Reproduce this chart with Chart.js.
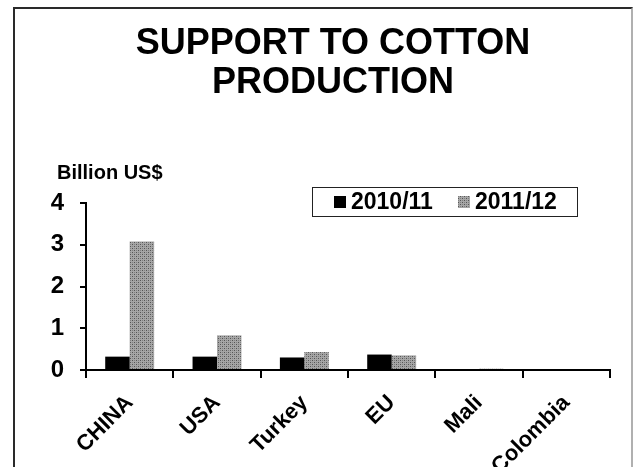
<!DOCTYPE html>
<html>
<head>
<meta charset="utf-8">
<script src="https://cdn.jsdelivr.net/npm/chart.js@4"></script>
<style>
    html, body { margin: 0; padding: 0; background: #fff; }
    #frame {
        position: absolute; left: 13px; top: 7px; width: 616px; height: 480px;
        border-left: 2px solid #2a2a2a; border-top: 2px solid #2a2a2a; border-right: 2px solid #b0b0b0;
    }
    #wrap { position: absolute; left: 0; top: 0; width: 633px; height: 467px; }
</style>
</head>
<body>
<div id="frame"></div>
<div id="wrap"><canvas id="cottonChart"></canvas></div>
<script>
const countries = ['CHINA', 'USA', 'Turkey', 'EU', 'Mali', 'Colombia'];
const support2010 = [0.32, 0.32, 0.30, 0.37, 0, 0];
const support2011 = [3.08, 0.83, 0.43, 0.35, 0.03, 0];
const yTicks = [0, 1, 2, 3, 4];
const titleLines = ['SUPPORT TO COTTON', 'PRODUCTION'];

const FONT = 'Liberation Sans, Arial, sans-serif';

// dotted grey fill used for the 2011/12 bars
function dotPattern() {
    const c = document.createElement('canvas');
    c.width = 4; c.height = 4;
    const g = c.getContext('2d');
    g.fillStyle = '#a6a6a6';
    g.fillRect(0, 0, 4, 4);
    g.fillStyle = '#555';
    g.fillRect(0, 0, 1, 1);
    g.fillRect(2, 2, 1, 1);
    g.fillStyle = '#808080';
    g.fillRect(2, 0, 1, 1);
    g.fillRect(0, 2, 1, 1);
    return g.createPattern(c, 'repeat');
}
const grey = dotPattern();

// title, unit label above the axis and the boxed legend inside the plot
const extras = {
    id: 'extras',
    afterDraw(chart) {
        const ctx = chart.ctx;
        ctx.save();
        ctx.fillStyle = '#000';
        ctx.textBaseline = 'middle';

        ctx.font = 'bold 36px ' + FONT;
        ctx.textAlign = 'center';
        titleLines.forEach((t, i) => ctx.fillText(t, 333, 44 + i * 39));

        ctx.textAlign = 'left';
        ctx.font = 'bold 20px ' + FONT;
        ctx.fillText('Billion US$', 57, 173);

        const x0 = 312, y0 = 187, w = 265, h = 29;
        ctx.fillStyle = '#fff';
        ctx.fillRect(x0, y0, w, h);
        ctx.strokeStyle = '#222';
        ctx.lineWidth = 1;
        ctx.strokeRect(x0 + 0.5, y0 + 0.5, w, h);
        ctx.font = 'bold 23px ' + FONT;
        const xs = [334, 458];
        chart.data.datasets.forEach((ds, i) => {
            ctx.fillStyle = ds.backgroundColor;
            ctx.fillRect(xs[i], y0 + 9, 12, 12);
            ctx.fillStyle = '#000';
            ctx.fillText(ds.label, xs[i] + 17, y0 + 16);
        });
        ctx.restore();
    }
};

new Chart(document.getElementById('cottonChart'), {
    type: 'bar',
    data: {
        labels: countries,
        datasets: [{
            label: '2010/11',
            data: support2010,
            backgroundColor: '#000000',
            categoryPercentage: 0.56,
            barPercentage: 1
        },
        {
            label: '2011/12',
            data: support2011,
            backgroundColor: grey,
            categoryPercentage: 0.56,
            barPercentage: 1
        }]
    },
    options: {
        responsive: true,
        maintainAspectRatio: false,
        animation: false,
        layout: { padding: { left: 0, right: 23, top: 203, bottom: 0 } },
        plugins: {
            legend: { display: false },
            tooltip: { enabled: false },
            title: { display: false }
        },
        scales: {
            y: {
                min: 0,
                max: 4,
                afterBuildTicks: axis => { axis.ticks = yTicks.map(v => ({ value: v })); },
                afterFit: axis => { axis.width = 86; },
                border: { color: '#000', width: 2 },
                grid: { drawOnChartArea: false, color: '#000', lineWidth: 2, tickLength: 6 },
                ticks: { color: '#000', padding: 16, font: { family: FONT, size: 24, weight: 'bold' } }
            },
            x: {
                afterFit: axis => { axis.height = 97; },
                border: { color: '#000', width: 2 },
                grid: { drawOnChartArea: false, color: '#000', lineWidth: 2, tickLength: 8, offset: true },
                ticks: {
                    color: '#000',
                    maxRotation: 45,
                    minRotation: 45,
                    padding: 12,
                    font: { family: FONT, size: 22, weight: 'bold' }
                }
            }
        }
    },
    plugins: [extras]
});
</script>
</body>
</html>
